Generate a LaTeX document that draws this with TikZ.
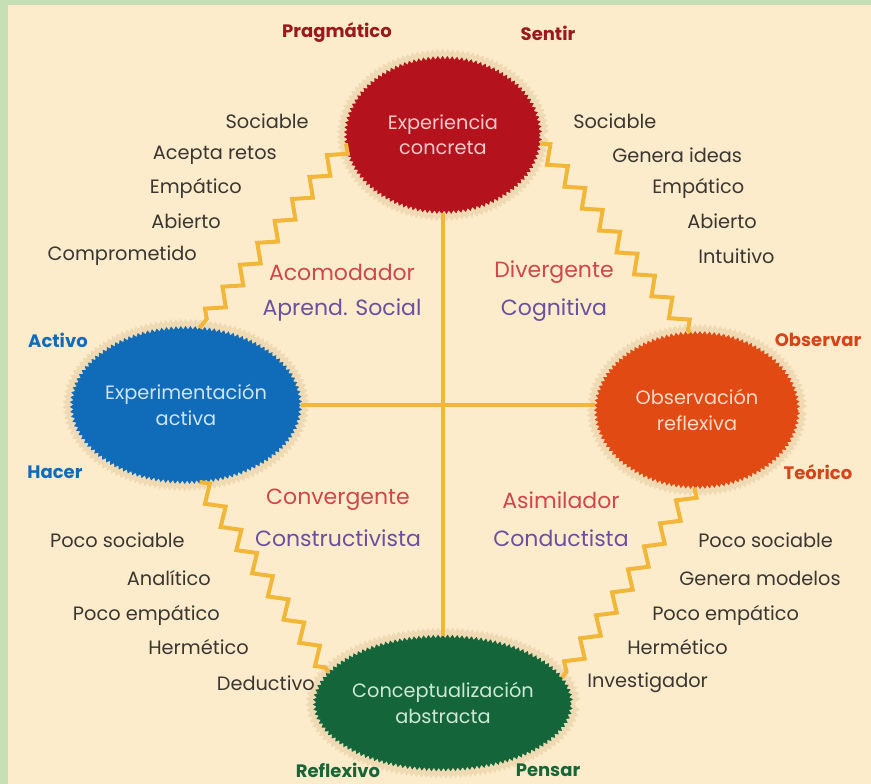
\documentclass[tikz,border=0pt]{standalone}
\usepackage{fontspec}
\setmainfont{Poppins}
\usepackage{xcolor}
\usetikzlibrary{shapes.geometric,decorations.pathmorphing}
\definecolor{cream}{RGB}{253,236,203}
\definecolor{glow}{RGB}{240,218,180}
\definecolor{frame}{RGB}{197,224,180}
\definecolor{gold}{RGB}{242,182,56}
\definecolor{wine}{RGB}{180,18,28}
\definecolor{winetxt}{RGB}{155,24,30}
\definecolor{azul}{RGB}{16,108,185}
\definecolor{naranja}{RGB}{226,74,20}
\definecolor{naranjatxt}{RGB}{214,68,26}
\definecolor{verde}{RGB}{20,102,58}
\definecolor{verdetxt}{RGB}{24,102,56}
\definecolor{rojo}{RGB}{208,70,74}
\definecolor{morado}{RGB}{106,80,160}
\definecolor{gris}{RGB}{58,54,50}
\tikzset{
  stage/.style={ellipse, inner sep=0pt, minimum width=146pt, minimum height=116pt,
    decorate, decoration={zigzag, segment length=3.6pt, amplitude=1.3pt},
    preaction={draw=glow, line width=6pt},
    align=center, font=\fontsize{14.5}{19}\selectfont},
  trait/.style={font=\fontsize{14.5}{16}\selectfont, text=gris, inner sep=0.75pt},
  pole/.style={font=\fontsize{13.5}{15}\selectfont\bfseries, inner sep=0.75pt},
  style/.style={font=\fontsize{16.5}{18}\selectfont, text=rojo, inner sep=0.75pt},
  theory/.style={font=\fontsize{16.5}{18}\selectfont, text=morado, inner sep=0.75pt},
  link/.style={draw=gold, line width=3pt, decorate,
    decoration={zigzag, segment length=21pt, amplitude=5.8pt}},
  axis/.style={draw=gold, line width=3pt}
}
\begin{document}
\begin{tikzpicture}[x=0.75pt,y=0.75pt,yscale=-1,xscale=1]
%Background
\fill[frame] (0,0) rectangle (871,784);
\fill[cream] (8,5) rectangle (871,784);
\useasboundingbox (0,0) rectangle (871,784);
%Shape: Circles
\node[stage, fill=wine, text={rgb,255:red,246;green,200;blue,200}] (expc) at (443,135) {Experiencia\\concreta};
\node[stage, fill=azul, text={rgb,255:red,205;green,227;blue,246}] (expa) at (186,405) {Experimentación\\activa};
\node[stage, fill=naranja, text={rgb,255:red,252;green,218;blue,202}, minimum width=152pt] (obsr) at (697,410) {Observación\\reflexiva};
\node[stage, fill=verde, text={rgb,255:red,205;green,232;blue,213}, minimum height=100pt] (conc) at (443,703) {Conceptualización\\abstracta};
%Straight Lines
\draw[axis] (expc.south) -- (conc.north);
\draw[axis] (expa.east) -- (expa.east -| obsr.west);
%Zigzag Lines
\draw[link] (expc.185) -- (expa.80);
\draw[link] (expc.355) -- (obsr.95);
\draw[link] (expa.280) -- (conc.165);
\draw[link] (obsr.268) -- (conc.12);
% Text Node
\node[pole, text=winetxt] (pragmatico) at (337,33) {Pragmático};
\node[pole, text=winetxt] (sentir) at (548,33) {Sentir};
\node[pole, text=azul] (activo) at (58,340) {Activo};
\node[pole, text=azul] (hacer) at (55,472) {Hacer};
\node[pole, text=naranjatxt] (observar) at (818,340) {Observar};
\node[pole, text=naranjatxt] (teorico) at (818,472) {Teórico};
\node[pole, text=verdetxt] (reflexivo) at (338,770) {Reflexivo};
\node[pole, text=verdetxt] (pensar) at (548,770) {Pensar};
% Text Node
\node[trait, anchor=east] (tl1) at (310,121) {Sociable};
\node[trait, anchor=east] (tl2) at (278,155) {Acepta retos};
\node[trait, anchor=east] (tl3) at (243,188) {Empático};
\node[trait, anchor=east] (tl4) at (222,221) {Abierto};
\node[trait, anchor=east] (tl5) at (198,256) {Comprometido};
% Text Node
\node[trait, anchor=west] (tr1) at (572,121) {Sociable};
\node[trait, anchor=west] (tr2) at (611,155) {Genera ideas};
\node[trait, anchor=west] (tr3) at (651,188) {Empático};
\node[trait, anchor=west] (tr4) at (686,221) {Abierto};
\node[trait, anchor=west] (tr5) at (697,256) {Intuitivo};
% Text Node
\node[trait, anchor=east] (bl1) at (186,540) {Poco sociable};
\node[trait, anchor=east] (bl2) at (212,578) {Analítico};
\node[trait, anchor=east] (bl3) at (221,615) {Poco empático};
\node[trait, anchor=east] (bl4) at (250,647) {Hermético};
\node[trait, anchor=east] (bl5) at (316,683) {Deductivo};
% Text Node
\node[trait, anchor=west] (br1) at (697,540) {Poco sociable};
\node[trait, anchor=west] (br2) at (678,578) {Genera modelos};
\node[trait, anchor=west] (br3) at (651,615) {Poco empático};
\node[trait, anchor=west] (br4) at (626,647) {Hermético};
\node[trait, anchor=west] (br5) at (586,683) {Investigador};
% Text Node
\node[style] (acom) at (342,272) {Acomodador};
\node[theory] (aprend) at (342,310) {Aprend. Social};
\node[style] (diverg) at (554,272) {Divergente};
\node[theory] (cognit) at (554,310) {Cognitiva};
\node[style] (converg) at (338,500) {Convergente};
\node[theory] (constr) at (338,538) {Constructivista};
\node[style] (asim) at (561,500) {Asimilador};
\node[theory] (conduct) at (561,538) {Conductista};
\end{tikzpicture}
\end{document}
